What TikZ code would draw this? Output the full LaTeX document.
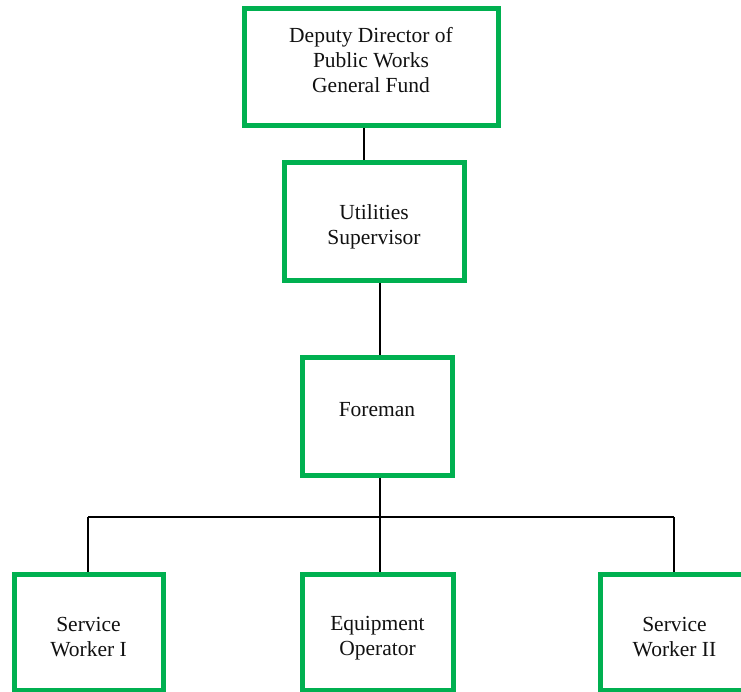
\documentclass[tikz,border=0pt]{standalone}
\usepackage{fontspec}
\setmainfont{Liberation Serif}
\definecolor{boxgreen}{HTML}{00B050}
\definecolor{inkblack}{HTML}{111111}
\begin{document}
\begin{tikzpicture}[x=1pt,y=-1pt,
  orgbox/.style={draw=boxgreen, line width=5pt, fill=white, rectangle, inner sep=0pt},
  lbl/.style={align=center, font=\fontsize{21.5}{25}\selectfont, text=inkblack, inner sep=0pt},
  link/.style={draw=black, line width=2pt}]
  \useasboundingbox (0,0) rectangle (741,692);
  \clip (0,0) rectangle (741,692);

  % junction points on the horizontal bus under the foreman
  \coordinate (busL) at (88,517);
  \coordinate (busR) at (674,517);
  \coordinate (busM) at (380,517);

  % boxes
  \node[orgbox, minimum width=254, minimum height=117] (dd)  at (371,67.5) {};
  \node[orgbox, minimum width=180, minimum height=118] (us)  at (374,222) {};
  \node[orgbox, minimum width=150, minimum height=118] (fm)  at (377,416) {};
  \node[orgbox, minimum width=149, minimum height=116] (sw1) at (88.5,632) {};
  \node[orgbox, minimum width=151, minimum height=116] (eo)  at (377.5,632) {};
  \node[orgbox, minimum width=149, minimum height=116] (sw2) at (674.5,632) {};

  % box labels
  \node[lbl] (ddt)  at (371,60)    {Deputy Director of\\Public Works\\General Fund};
  \node[lbl] (ust)  at (374,227)   {Utilities\\Supervisor};
  \node[lbl] (fmt)  at (377,410)   {Foreman};
  \node[lbl] (sw1t) at (88.5,637)  {Service\\Worker I};
  \node[lbl] (eot)  at (377.5,638) {Equipment\\Operator};
  \node[lbl] (sw2t) at (674.5,637) {Service\\Worker II};

  % reporting lines (anchors already sit on the outer edge of the borders)
  \draw[link] ([xshift=-7pt]dd.south) -- ([xshift=-7pt]dd.south |- us.north);
  \draw[link] ([xshift=6pt]us.south) -- ([xshift=6pt]us.south |- fm.north);
  \draw[link] ([xshift=3pt]fm.south) -- (busM);
  \draw[link] (busL) -- (busR);
  \draw[link] (busL) -- (busL |- sw1.north);
  \draw[link] (busM) -- (busM |- eo.north);
  \draw[link] (busR) -- (busR |- sw2.north);
\end{tikzpicture}
\end{document}
